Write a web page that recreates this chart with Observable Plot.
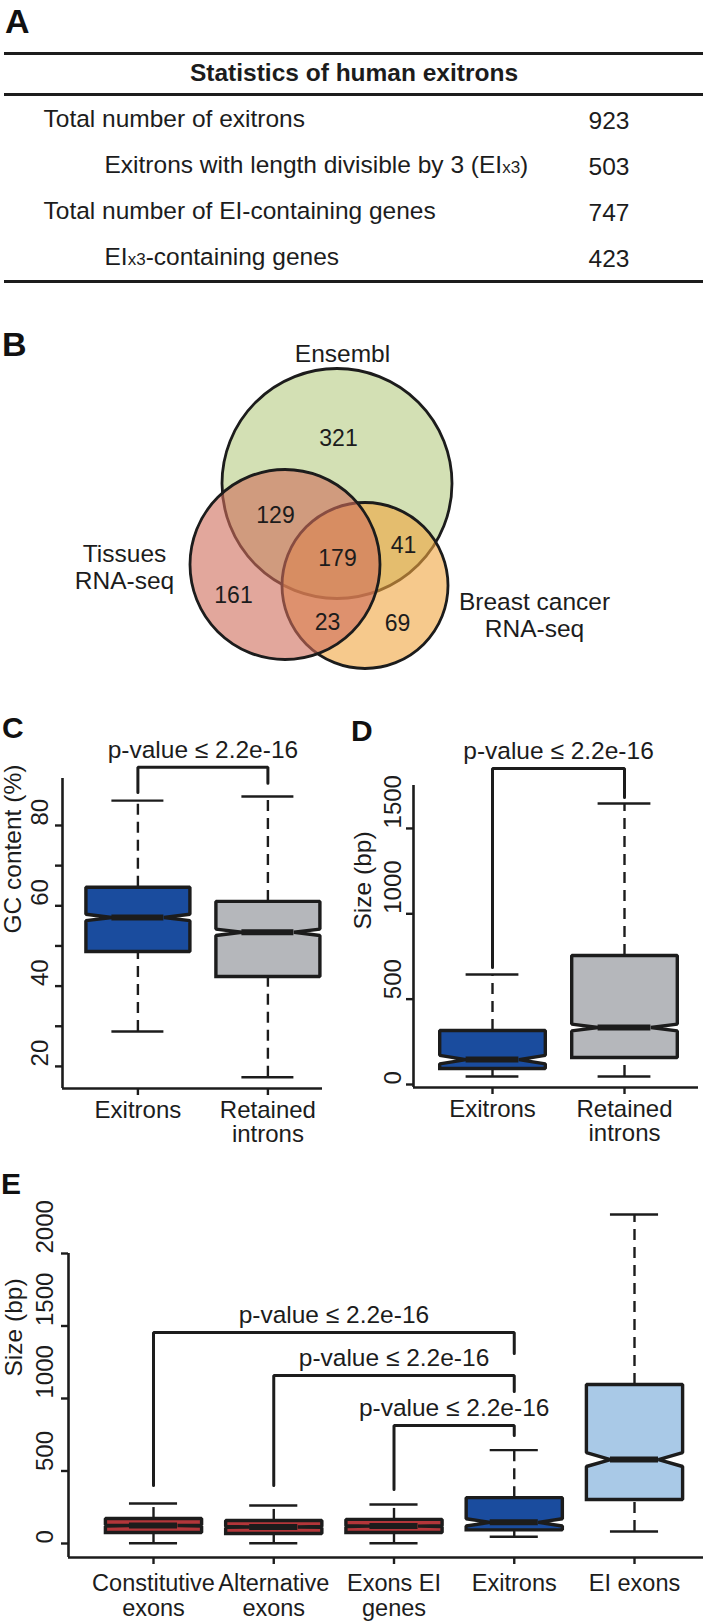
<!DOCTYPE html>
<html><head><meta charset="utf-8">
<script src="https://cdn.jsdelivr.net/npm/d3@7"></script>
<script src="https://cdn.jsdelivr.net/npm/@observablehq/plot@0.6"></script>
<style>
html,body{margin:0;padding:0;background:#fff;}
#fig{position:relative;width:703px;height:1622px;overflow:hidden;font-family:"Liberation Sans",Arial,Helvetica,sans-serif;color:#111;}
.panel{position:absolute;}
.letter{position:absolute;font-weight:bold;line-height:1;color:#111;}
</style></head><body><div id="fig"></div>
<script>
// ================= DATA =================
// Panel A: table
const tableTitle = "Statistics of human exitrons";
const tableLabels = [
  "Total number of exitrons",
  "Exitrons with length divisible by 3 (EIx3)",
  "Total number of EI-containing genes",
  "EIx3-containing genes"
];
const tableValues = [923, 503, 747, 423];
const tableLevels = [0, 1, 0, 1];

// Panel B: Venn diagram (draw order of sets)
const vennSetNames = ["Ensembl", "Breast cancer RNA-seq", "Tissues RNA-seq"];
const vennRegionSets = [
  ["Ensembl"],
  ["Ensembl", "Tissues RNA-seq"],
  ["Ensembl", "Tissues RNA-seq", "Breast cancer RNA-seq"],
  ["Ensembl", "Breast cancer RNA-seq"],
  ["Tissues RNA-seq"],
  ["Tissues RNA-seq", "Breast cancer RNA-seq"],
  ["Breast cancer RNA-seq"]
];
const vennRegionCounts = [321, 129, 179, 41, 161, 23, 69];

// Panel C: GC content (%)
const gcCategories = ["Exitrons", "Retained\nintrons"];
const gcLow    = [28.7, 17.3];
const gcQ1     = [48.6, 42.4];
const gcMedian = [57.1, 53.4];
const gcQ3     = [64.6, 61.1];
const gcHigh   = [86.2, 87.2];
const gcNotch  = [0.8, 0.8];

// Panel D: Size (bp)
const sizeCategories = ["Exitrons", "Retained\nintrons"];
const sizeLow    = [47, 47];
const sizeQ1     = [94, 158];
const sizeMedian = [146, 334];
const sizeQ3     = [316, 756];
const sizeHigh   = [644, 1646];
const sizeNotch  = [25, 20];

// Panel E: Size (bp)
const exonCategories = ["Constitutive\nexons", "Alternative\nexons", "Exons EI\ngenes", "Exitrons", "EI exons"];
const exonLow    = [2, 2, 2, 47, 83];
const exonQ1     = [76, 69, 76, 94, 303];
const exonMedian = [124, 114, 120, 146, 579];
const exonQ3     = [172, 159, 166, 316, 1097];
const exonHigh   = [276, 262, 269, 644, 2269];
const exonNotch  = [3, 3, 3, 25, 48];

const pValueText = "p-value \u2264 2.2e-16";

// ================= STYLE / LAYOUT =================
const ink = "#1c1c1c";
const fontFam = '"Liberation Sans", Arial, Helvetica, sans-serif';
const gcColors = ["#1a4c9e", "#b5b7bb"];
const sizeColors = ["#1a4c9e", "#b5b7bb"];
const exonColors = ["#b3363a", "#b3363a", "#b3363a", "#1a4c9e", "#a9c9e7"];
const vennColors = ["#b6cb82", "#f0a53f", "#cf6c5a"];

// Venn layout (page pixel units)
const vennCenters = {"Ensembl": [336.5, 483], "Breast cancer RNA-seq": [364.5, 585], "Tissues RNA-seq": [284.5, 564]};
const vennRegionPos = [[338, 438], [275, 515], [337, 558], [403, 545], [233, 595], [327, 622], [397, 623]];
const vennLabelPos = {"Ensembl": [342, 353], "Breast cancer RNA-seq": [534, 614], "Tissues RNA-seq": [124, 566]};
const vennLabelText = {"Ensembl": "Ensembl", "Breast cancer RNA-seq": "Breast cancer\nRNA-seq", "Tissues RNA-seq": "Tissues\nRNA-seq"};

// significance brackets (data units)
const gcBrackets = [{from: 1, to: 2, y: 94.5, end1: 88.2, end2: 90.5}];
const sizeBrackets = [{from: 1, to: 2, y: 1851, end1: 685, end2: 1681}];
const exonBrackets = [
  {from: 1, to: 4, y: 1455, end1: 400, end2: 1310},
  {from: 2, to: 4, y: 1159, end1: 400, end2: 1048},
  {from: 3, to: 4, y: 814, end1: 372, end2: 745}
];

// ================= HELPERS =================
const fig = document.getElementById("fig");
function place(el, left, top) {
  const d = document.createElement("div");
  d.className = "panel"; d.style.left = left + "px"; d.style.top = top + "px";
  d.append(el); fig.append(d); return d;
}
function letter(t, left, top, size) {
  const d = document.createElement("div");
  d.className = "letter"; d.textContent = t;
  d.style.left = left + "px"; d.style.top = top + "px"; d.style.fontSize = size + "px";
  fig.append(d);
}
function boxRows(cats, lo, q1, med, q3, hi, nc, colors) {
  return cats.map((c, k) => ({cat: c, i: k + 1, lo: lo[k], q1: q1[k], med: med[k], q3: q3[k], hi: hi[k], nc: nc[k], color: colors[k]}));
}
function notchPolys(rows, hw = 0.4) {
  const out = [];
  for (const d of rows) {
    const x = d.i, a = d.med - d.nc, b = d.med + d.nc;
    const P = [[x - hw, d.q1], [x - hw, a], [x - hw / 2, d.med], [x - hw, b], [x - hw, d.q3],
               [x + hw, d.q3], [x + hw, b], [x + hw / 2, d.med], [x + hw, a], [x + hw, d.q1], [x - hw, d.q1]];
    for (const [px, py] of P) out.push({cat: d.cat, color: d.color, x: px, y: py});
  }
  return out;
}
function boxMarks(rows) {
  const dash = {stroke: ink, strokeWidth: 2.4, strokeDasharray: "11,7"};
  const solid = {stroke: ink, strokeWidth: 2.4};
  return [
    Plot.ruleX(rows, {x: "i", y1: "q3", y2: "hi", ...dash}),
    Plot.ruleX(rows, {x: "i", y1: "lo", y2: "q1", ...dash}),
    Plot.ruleY(rows, {y: "hi", x1: d => d.i - 0.2, x2: d => d.i + 0.2, ...solid}),
    Plot.ruleY(rows, {y: "lo", x1: d => d.i - 0.2, x2: d => d.i + 0.2, ...solid}),
    Plot.line(notchPolys(rows), {x: "x", y: "y", z: "cat", fill: "color", stroke: ink, strokeWidth: 3.4, strokeLinejoin: "miter", strokeLinecap: "square"}),
    Plot.ruleY(rows, {y: "med", x1: d => d.i - 0.2, x2: d => d.i + 0.2, stroke: ink, strokeWidth: 6})
  ];
}
function bracketMarks(brs) {
  const pts = [];
  brs.forEach((b, k) => {
    pts.push({k, x: b.from, y: b.end1}, {k, x: b.from, y: b.y}, {k, x: b.to, y: b.y}, {k, x: b.to, y: b.end2});
  });
  return [
    Plot.line(pts, {x: "x", y: "y", z: "k", stroke: ink, strokeWidth: 3, strokeLinejoin: "miter"}),
    Plot.text(brs, {x: d => (d.from + d.to) / 2, y: "y", text: () => pValueText, dy: -17, fontSize: 24.5, fill: ink})
  ];
}
function axisMarks(o) {
  const [x0] = o.xDomain, [y0] = o.yDomain;
  return [
    Plot.ruleX([x0], {x: d => d, y1: y0, y2: o.yLineTop, stroke: ink, strokeWidth: 2.6}),
    Plot.ruleY([y0], {y: d => d, x1: x0, x2: o.xLineRight, stroke: ink, strokeWidth: 2.6}),
    Plot.ruleY(o.yTicks, {y: d => d, x1: x0, x2: x0, insetLeft: -7, stroke: ink, strokeWidth: 2.4}),
    Plot.ruleX(o.rows, {x: "i", y1: y0, y2: y0, insetBottom: -7, stroke: ink, strokeWidth: 2.4}),
    Plot.text(o.yLabels, {y: d => d, text: d => String(d), frameAnchor: "left", dx: o.tickLabelDx, rotate: -90, fontSize: 24, fill: ink}),
    Plot.text([o.title], {text: d => d, frameAnchor: "left", dx: o.titleDx, rotate: -90, fontSize: 24.5, fill: ink}),
    Plot.text(o.rows, {x: "i", text: "cat", frameAnchor: "bottom", lineAnchor: "top", dy: o.labelDy, lineHeight: o.lineHeight, fontSize: o.labelSize, fill: ink})
  ];
}
const baseStyle = {fontFamily: fontFam, fontSize: "24px", background: "transparent", overflow: "visible"};

// ================= PANEL A =================
const tableRows = tableLabels.map((label, k) => ({label, value: tableValues[k], level: tableLevels[k]}));
const TITLE = "__title__";
const plotA = Plot.plot({
  width: 703, height: 300, margin: 0, style: baseStyle,
  x: {domain: [0, 703], range: [0, 703], axis: null},
  y: {type: "point", domain: [TITLE, ...tableLabels], range: [72, 258], padding: 0, axis: null},
  marks: [
    Plot.ruleY([TITLE], {y: d => d, dy: -20, insetLeft: 4, stroke: ink, strokeWidth: 3}),
    Plot.ruleY([TITLE], {y: d => d, dy: 21, insetLeft: 4, stroke: ink, strokeWidth: 3}),
    Plot.ruleY([tableLabels[tableLabels.length - 1]], {y: d => d, dy: 24, insetLeft: 4, stroke: ink, strokeWidth: 3}),
    Plot.text([tableTitle], {y: () => TITLE, text: d => d, frameAnchor: "middle", dx: 2, fontWeight: "bold", fontSize: 24.5, fill: ink}),
    Plot.text(tableRows, {filter: d => d.level === 0, y: "label", text: "label", frameAnchor: "left", dx: 43, textAnchor: "start", fontSize: 24.5, fill: ink}),
    Plot.text(tableRows, {filter: d => d.level === 1, y: "label", text: "label", frameAnchor: "left", dx: 104, textAnchor: "start", fontSize: 24.5, fill: ink}),
    Plot.text(tableRows, {y: "label", text: d => String(d.value), frameAnchor: "right", dx: -74, dy: 2, fontSize: 24.5, fill: ink})
  ]
});
plotA.querySelectorAll("text").forEach(t => {
  const s = t.textContent, k = s.indexOf("EIx3");
  if (k >= 0 && t.children.length === 0) {
    t.textContent = "";
    t.append(document.createTextNode(s.slice(0, k + 2)));
    const ts = document.createElementNS("http://www.w3.org/2000/svg", "tspan");
    ts.setAttribute("font-size", "17"); ts.textContent = "x3";
    t.append(ts);
    t.append(document.createTextNode(s.slice(k + 4)));
  }
});
place(plotA, 0, 0);

// ================= PANEL B =================
const setSizes = vennSetNames.map(s => d3.sum(vennRegionCounts.filter((c, k) => vennRegionSets[k].includes(s))));
const vennCircles = vennSetNames.map((s, k) => ({name: s, size: setSizes[k], cx: vennCenters[s][0], cy: vennCenters[s][1]}));
const vennRegions = vennRegionCounts.map((c, k) => ({count: c, px: vennRegionPos[k][0], py: vennRegionPos[k][1]}));
const vennLabels = vennSetNames.map(s => ({text: vennLabelText[s], px: vennLabelPos[s][0], py: vennLabelPos[s][1]}));
const sortedSizes = [...setSizes].sort((a, b) => a - b);
const plotB = Plot.plot({
  width: 703, height: 380, margin: 0, style: baseStyle,
  x: {domain: [0, 703], range: [0, 703], axis: null},
  y: {domain: [300, 680], range: [0, 380], axis: null},
  r: {type: "linear", domain: sortedSizes, range: [83, 95, 115]},
  color: {domain: vennSetNames, range: vennColors},
  marks: [
    Plot.dot(vennCircles, {x: "cx", y: "cy", r: "size", fill: "name", fillOpacity: 0.6, stroke: ink, strokeWidth: 2.8, sort: null}),
    Plot.text(vennRegions, {x: "px", y: "py", text: d => String(d.count), fontSize: 23, fill: ink}),
    Plot.text(vennLabels, {x: "px", y: "py", text: "text", fontSize: 24.5, lineHeight: 1.12, fill: ink})
  ]
});
place(plotB, 0, 300);

// ================= PANEL C =================
const gcRows = boxRows(gcCategories, gcLow, gcQ1, gcMedian, gcQ3, gcHigh, gcNotch, gcColors);
const cX = [0.42, 2.42], cY = [14.5, 91.7];
const plotC = Plot.plot({
  width: 350, height: 440, marginLeft: 62, marginRight: 28, marginTop: 78, marginBottom: 52, style: baseStyle,
  x: {domain: cX, axis: null}, y: {domain: cY, axis: null}, color: {type: "identity"},
  marks: [
    ...axisMarks({xDomain: cX, yDomain: cY, yLineTop: cY[1], xLineRight: cX[1], yTicks: [20, 30, 40, 50, 60, 70, 80],
      yLabels: [20, 40, 60, 80], rows: gcRows, title: "GC content (%)", titleDx: -49, tickLabelDx: -22, labelDy: 12, lineHeight: 1.0, labelSize: 24}),
    ...boxMarks(gcRows),
    ...bracketMarks(gcBrackets)
  ]
});
place(plotC, 0, 700);

// ================= PANEL D =================
const sizeRows = boxRows(sizeCategories, sizeLow, sizeQ1, sizeMedian, sizeQ3, sizeHigh, sizeNotch, sizeColors);
const dX = [0.4015, 2.5606], dY = [-17.6, 1833.6];
const plotD = Plot.plot({
  width: 353, height: 440, marginLeft: 63, marginRight: 5, marginTop: 71, marginBottom: 53, style: baseStyle,
  x: {domain: dX, axis: null}, y: {domain: dY, axis: null}, color: {type: "identity"},
  marks: [
    ...axisMarks({xDomain: dX, yDomain: dY, yLineTop: 1751.6, xLineRight: dX[1], yTicks: [0, 500, 1000, 1500],
      yLabels: [0, 500, 1000, 1500], rows: sizeRows, title: "Size (bp)", titleDx: -50, tickLabelDx: -20, labelDy: 12, lineHeight: 1.0, labelSize: 24}),
    ...boxMarks(sizeRows),
    ...bracketMarks(sizeBrackets)
  ]
});
place(plotD, 350, 700);

// ================= PANEL E =================
const exonRows = boxRows(exonCategories, exonLow, exonQ1, exonMedian, exonQ3, exonHigh, exonNotch, exonColors);
const eX = [0.2931, 5.5738], eY = [-96.6, 2400];
const plotE = Plot.plot({
  width: 703, height: 472, marginLeft: 68, marginRight: 0, marginTop: 45, marginBottom: 65, style: baseStyle,
  x: {domain: eX, axis: null}, y: {domain: eY, axis: null}, color: {type: "identity"},
  marks: [
    ...axisMarks({xDomain: eX, yDomain: eY, yLineTop: 2000, xLineRight: eX[1], yTicks: [0, 500, 1000, 1500, 2000],
      yLabels: [0, 500, 1000, 1500, 2000], rows: exonRows, title: "Size (bp)", titleDx: -54, tickLabelDx: -23, labelDy: 16, lineHeight: 1.05, labelSize: 23.5}),
    ...boxMarks(exonRows),
    ...bracketMarks(exonBrackets)
  ]
});
place(plotE, 0, 1150);

// panel letters
letter("A", 5, 4, 34);
letter("B", 2, 327, 34);
letter("C", 2, 713, 30);
letter("D", 351, 716, 30);
letter("E", 1, 1169, 30);
</script>
</body></html>
